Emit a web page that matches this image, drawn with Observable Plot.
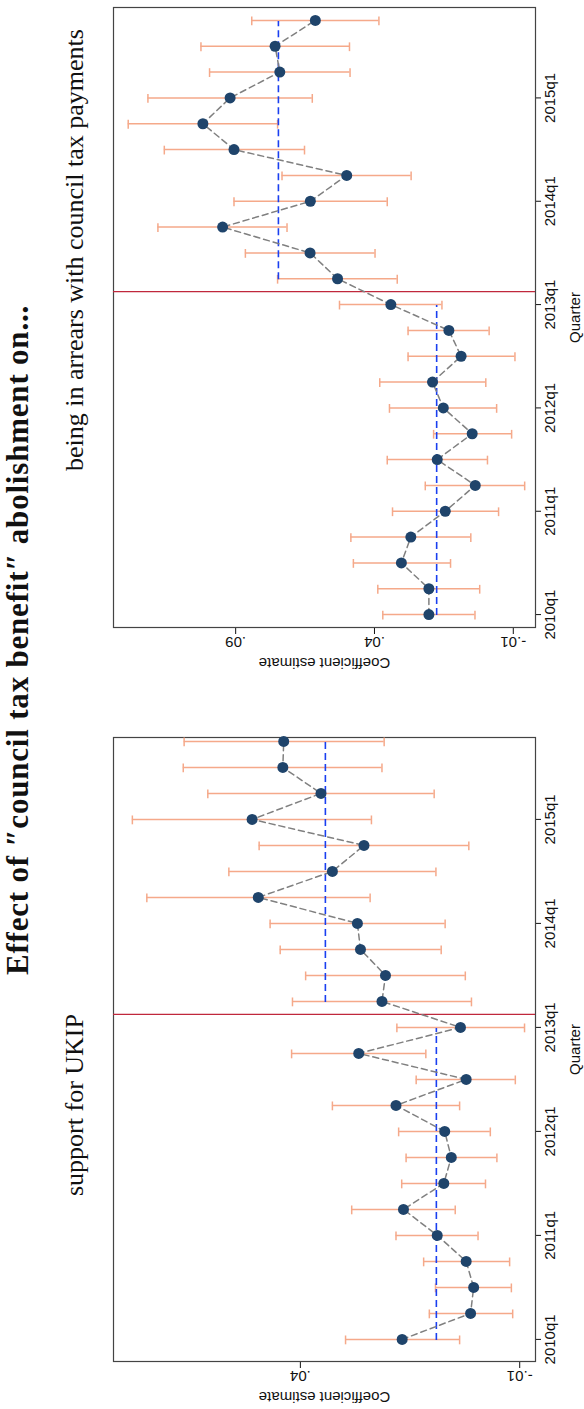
<!DOCTYPE html>
<html>
<head>
<meta charset="utf-8">
<script src="https://cdn.jsdelivr.net/npm/d3@7"></script>
<script src="https://cdn.jsdelivr.net/npm/@observablehq/plot@0.6"></script>
<style>
  body { margin: 0; width: 584px; height: 1409px; overflow: hidden; background: #fff; }
  #page { position: absolute; left: 0; top: 0; width: 1409px; height: 584px;
          transform-origin: 0 0; transform: translate(0, 1409px) rotate(-90deg); }
  .ttl { position: absolute; font-family: "Liberation Serif", serif; color: #111; white-space: nowrap; }
  .panel { position: absolute; top: 0; }
</style>
</head>
<body>
<div id="page">
  <div class="ttl" style="left:0;width:1538px;top:0px;text-align:center;font-size:31px;font-weight:bold;letter-spacing:0.8px;">Effect of ″council tax benefit″ abolishment on...</div>
  <div class="ttl" style="left:0;width:608px;top:60px;text-align:center;font-size:26px;">support for UKIP</div>
  <div class="ttl" style="left:890px;width:538px;top:60px;text-align:center;font-size:26px;">being in arrears with council tax payments</div>
  <div class="panel" id="left" style="left:0"></div>
  <div class="panel" id="right" style="left:734px"></div>
</div>
<script>
const quarterTicks = [0, 4, 8, 12, 16, 20];
const quarterLabels = ["2010q1", "2011q1", "2012q1", "2013q1", "2014q1", "2015q1"];

// support for UKIP, 2010q1 .. 2015q4
const ukipEst = [0.0168, 0.0012, 0.0005, 0.0022, 0.0088, 0.0165, 0.0073, 0.0056, 0.0071, 0.0182, 0.0022, 0.0267, 0.0035,
                 0.0214, 0.0206, 0.0263, 0.0270, 0.0496, 0.0327, 0.0255, 0.0510, 0.0353, 0.0440, 0.0438];
const ukipHi  = [0.0297, 0.0106, 0.0092, 0.0119, 0.0182, 0.0283, 0.0169, 0.0159, 0.0176, 0.0327, 0.0136, 0.0420, 0.0180,
                 0.0418, 0.0388, 0.0446, 0.0469, 0.0750, 0.0563, 0.0494, 0.0783, 0.0611, 0.0667, 0.0665];
const ukipLo  = [0.0037, -0.0084, -0.0081, -0.0077, -0.0005, 0.0047, -0.0022, -0.0048, -0.0033, 0.0037, -0.0090, 0.0114, -0.0111,
                 0.0010, 0.0024, 0.0079, 0.0070, 0.0241, 0.0091, 0.0016, 0.0238, 0.0095, 0.0214, 0.0209];
const ukipMeans = [0.0090, 0.0343];

// being in arrears with council tax payments
const arrEst = [0.0204, 0.0204, 0.0303, 0.0269, 0.0145, 0.0037, 0.0174, 0.0048, 0.0152, 0.0191, 0.0088, 0.0132, 0.0341,
                0.0533, 0.0632, 0.0947, 0.0631, 0.0500, 0.0906, 0.1018, 0.0920, 0.0741, 0.0758, 0.0613];
const arrHi  = [0.0370, 0.0388, 0.0476, 0.0485, 0.0335, 0.0217, 0.0354, 0.0187, 0.0346, 0.0381, 0.0279, 0.0279, 0.0526,
                0.0749, 0.0865, 0.1180, 0.0906, 0.0733, 0.1157, 0.1287, 0.1216, 0.0994, 0.1025, 0.0842];
const arrLo  = [0.0038, 0.0021, 0.0126, 0.0053, -0.0047, -0.0141, -0.0007, -0.0094, -0.0040, -0.0001, -0.0106, -0.0013, 0.0157,
                0.0318, 0.0398, 0.0715, 0.0354, 0.0268, 0.0652, 0.0749, 0.0624, 0.0488, 0.0490, 0.0384];
const arrMeans = [0.0176, 0.0746];

const treatAt = 12.5;
const fmt = d => d.toFixed(2).replace("0.", ".");

const makePanel = (est, lo, hi, means, cfg) => {
  const rows = est.map((e, i) => ({q: i, est: e, lo: lo[i], hi: hi[i]}));
  const meanRows = [
    {x1: 0, x2: 12, y: means[0]},
    {x1: 13, x2: 23, y: means[1]}
  ];
  return Plot.plot({
    width: cfg.width, height: 584,
    marginLeft: cfg.ml, marginRight: cfg.mr, marginTop: 113, marginBottom: 49,
    style: {fontFamily: "Liberation Sans, Arial, sans-serif", fontSize: "15px", color: "#111"},
    x: {domain: cfg.xdom, ticks: quarterTicks, tickFormat: d => quarterLabels[quarterTicks.indexOf(d)],
        label: "Quarter", labelAnchor: "center", labelArrow: "none", labelOffset: 44, tickSize: 6, tickPadding: 3},
    y: {domain: cfg.ydom, ticks: cfg.yticks, tickFormat: fmt, tickRotate: -90,
        label: "Coefficient estimate", labelAnchor: "center", labelArrow: "none", labelOffset: 41, tickSize: 6},
    marks: [
      Plot.frame({stroke: "#444", strokeWidth: 1.2}),
      Plot.ruleX([treatAt], {stroke: "#c0283c", strokeWidth: 1.3}),
      Plot.ruleX(rows, {x: "q", y1: "lo", y2: "hi", stroke: "#f5a98a", strokeWidth: 1.5}),
      Plot.ruleY(rows, {y: "lo", x1: d => d.q - 0.17, x2: d => d.q + 0.17, stroke: "#f5a98a", strokeWidth: 1.5}),
      Plot.ruleY(rows, {y: "hi", x1: d => d.q - 0.17, x2: d => d.q + 0.17, stroke: "#f5a98a", strokeWidth: 1.5}),
      Plot.ruleY(meanRows, {y: "y", x1: "x1", x2: "x2", stroke: "#1a3ff0", strokeWidth: 1.6, strokeDasharray: "7,4"}),
      Plot.line(rows, {x: "q", y: "est", stroke: "#808080", strokeWidth: 1.5, strokeDasharray: "6,4"}),
      Plot.dot(rows, {x: "q", y: "est", r: 5.5, fill: "#1f446b", stroke: "none"})
    ]
  });
};

document.getElementById("left").append(makePanel(ukipEst, ukipLo, ukipHi, ukipMeans,
  {width: 700, ml: 47, mr: 29, xdom: [-0.85, 23.15], ydom: [-0.0136, 0.0826], yticks: [-0.01, 0.04]}));
document.getElementById("right").append(makePanel(arrEst, arrLo, arrHi, arrMeans,
  {width: 675, ml: 47, mr: 8, xdom: [-0.5, 23.5], ydom: [-0.018, 0.134], yticks: [-0.01, 0.04, 0.09]}));
</script>
</body>
</html>
